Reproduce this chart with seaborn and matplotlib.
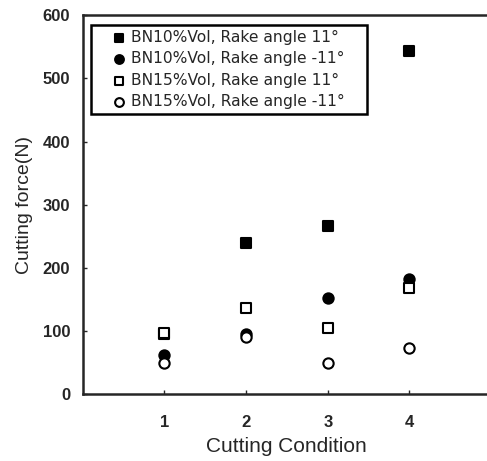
import numpy as np
import pandas as pd
import matplotlib
matplotlib.use("Agg")
import matplotlib.pyplot as plt
import seaborn as sns

# values
conditions = [1, 2, 3, 4]
bn10_pos11 = [95, 240, 267, 544]
bn10_neg11 = [62, 96, 152, 183]
bn15_pos11 = [97, 136, 104, 168]
bn15_neg11 = [49, 90, 49, 73]

labels = [
    "BN10%Vol, Rake angle 11°",
    "BN10%Vol, Rake angle -11°",
    "BN15%Vol, Rake angle 11°",
    "BN15%Vol, Rake angle -11°",
]
series = [bn10_pos11, bn10_neg11, bn15_pos11, bn15_neg11]
markers = ["s", "o", "s", "o"]
faces = ["black", "black", "white", "white"]

sns.set_style("ticks")
plt.rcParams["font.family"] = ["Liberation Sans", "DejaVu Sans"]

fig = plt.figure(figsize=(4.87, 4.61), dpi=100)
ax = fig.add_axes([0.170, 0.145, 0.835, 0.822])

for vals, lab, mk, fc in zip(series, labels, markers, faces):
    df = pd.DataFrame({"Condition": conditions, "Force": vals})
    sns.scatterplot(data=df, x="Condition", y="Force", marker=mk, s=55,
                    facecolor=fc, edgecolor="black", linewidth=1.5,
                    label=lab, ax=ax, zorder=3)

ax.set_xlim(0, 4.98)
ax.set_ylim(0, 600)
ax.set_xticks(conditions)
ax.set_yticks(range(0, 601, 100))
ax.tick_params(direction="in", length=3, width=1)
ax.tick_params(axis="x", pad=15)
ax.tick_params(axis="y", pad=9)
for t in ax.get_xticklabels() + ax.get_yticklabels():
    t.set_fontweight("bold")
    t.set_fontsize(12)

for s in ["left", "bottom", "top"]:
    ax.spines[s].set_linewidth(1.8)
ax.spines["right"].set_visible(False)

ax.set_xlabel("Cutting Condition", fontsize=15, labelpad=5)
ax.set_ylabel("Cutting force(N)", fontsize=14, labelpad=7)

leg = ax.legend(loc="upper left", bbox_to_anchor=(0.02, 0.974, 0.68, 0.0),
                mode="expand", borderaxespad=0,
                prop={"family": "DejaVu Sans", "size": 11.2},
                frameon=True, fancybox=False, handletextpad=-0.75,
                handlelength=3.0, borderpad=0.3, labelspacing=0.42,
                markerscale=0.85)
leg.get_frame().set_edgecolor("black")
leg.get_frame().set_linewidth(1.8)
leg.get_frame().set_alpha(1)

fig.savefig("out.png", dpi=100)
